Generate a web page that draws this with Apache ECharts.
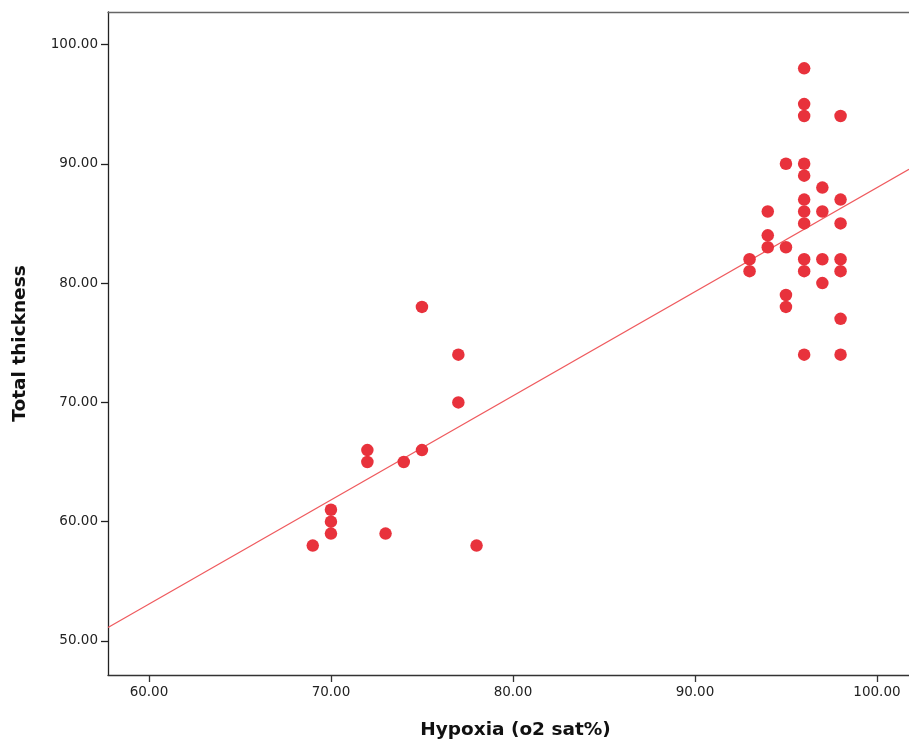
<!DOCTYPE html>
<html>
<head>
<meta charset="utf-8">
<script src="https://cdn.jsdelivr.net/npm/echarts@6/dist/echarts.min.js"></script>
<style>
html,body{margin:0;padding:0;background:#fff;overflow:hidden;}
#chart{width:909px;height:748px;}
</style>
</head>
<body>
<div id="chart"></div>
<script>
// Hypoxia (o2 sat%) values
const hypoxia = [
  69, 70, 70, 70, 72, 72, 73, 74, 75, 75, 77, 77, 78,
  93, 93,
  94, 94, 94,
  95, 95, 95, 95,
  96, 96, 96, 96, 96, 96, 96, 96, 96, 96, 96,
  97, 97, 97, 97,
  98, 98, 98, 98, 98, 98, 98
];
// Total thickness values
const thickness = [
  58, 61, 60, 59, 66, 65, 59, 65, 78, 66, 74, 70, 58,
  82, 81,
  86, 84, 83,
  90, 83, 79, 78,
  98, 95, 94, 90, 89, 87, 86, 85, 82, 81, 74,
  88, 86, 82, 80,
  94, 87, 85, 82, 81, 77, 74
];
const xTicks = [60, 70, 80, 90, 100];
const yTicks = [50, 60, 70, 80, 90, 100];
const xRange = [57.75, 101.76];
const yRange = [47.15, 102.72];

// least squares fit line
const n = hypoxia.length;
const mx = hypoxia.reduce((a, b) => a + b, 0) / n;
const my = thickness.reduce((a, b) => a + b, 0) / n;
let sxx = 0, sxy = 0;
for (let i = 0; i < n; i++) {
  sxx += (hypoxia[i] - mx) * (hypoxia[i] - mx);
  sxy += (hypoxia[i] - mx) * (thickness[i] - my);
}
const slope = sxy / sxx;
const intercept = my - slope * mx;
const fit = xRange.map(x => [x, intercept + slope * x]);

const points = hypoxia.map((x, i) => [x, thickness[i]]);

const chart = echarts.init(document.getElementById('chart'), null, {renderer: 'canvas'});
const labelStyle = {color: '#222', fontFamily: 'DejaVu Sans', fontSize: 13.5};
chart.setOption({
  animation: false,
  backgroundColor: '#fff',
  grid: {left: 108, top: 12, right: 0, bottom: 73, show: false, containLabel: false},
  xAxis: [{
    type: 'value', min: xRange[0], max: xRange[1],
    name: 'Hypoxia (o2 sat%)', nameLocation: 'middle', nameGap: 46,
    nameTextStyle: {fontFamily: 'DejaVu Sans', fontWeight: 'bold', fontSize: 18.5, color: '#111', padding: [0, 0, 0, 14]},
    axisLine: {show: true, onZero: false, lineStyle: {color: '#333', width: 1.3}},
    axisTick: {show: true, length: 7, customValues: xTicks, lineStyle: {color: '#333', width: 1.3}},
    axisLabel: Object.assign({margin: 10, customValues: xTicks, formatter: v => v.toFixed(2)}, labelStyle),
    splitLine: {show: false}
  }, {
    type: 'value', position: 'top', min: xRange[0], max: xRange[1],
    axisLine: {show: true, onZero: false, lineStyle: {color: '#666', width: 1.3}},
    axisTick: {show: false}, axisLabel: {show: false}, splitLine: {show: false}
  }],
  yAxis: {
    type: 'value', min: yRange[0], max: yRange[1],
    name: 'Total thickness', nameLocation: 'middle', nameGap: 78,
    nameTextStyle: {fontFamily: 'DejaVu Sans', fontWeight: 'bold', fontSize: 18.5, color: '#111'},
    axisLine: {show: true, onZero: false, lineStyle: {color: '#222', width: 1.3}},
    axisTick: {show: true, length: 7, customValues: yTicks, lineStyle: {color: '#222', width: 1.3}},
    axisLabel: Object.assign({margin: 10, customValues: yTicks, formatter: v => v.toFixed(2)}, labelStyle),
    splitLine: {show: false}
  },
  series: [
    {
      type: 'line', data: fit, symbol: 'none', silent: true,
      lineStyle: {color: '#ef5a5e', width: 1.2}, z: 1
    },
    {
      type: 'scatter', data: points, symbol: 'circle', symbolSize: 12.5,
      itemStyle: {color: '#e8323c', opacity: 1}, z: 2
    }
  ]
});
</script>
</body>
</html>
